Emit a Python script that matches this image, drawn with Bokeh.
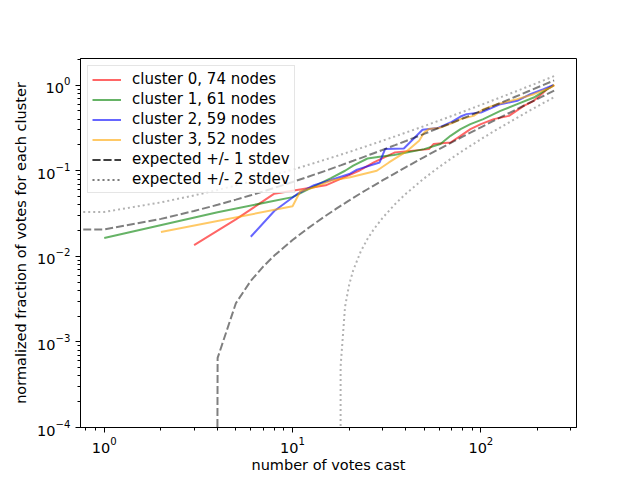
import numpy as np
from bokeh.plotting import figure
from bokeh.models import Range1d, Legend, LegendItem
from bokeh.embed import file_html
from bokeh.resources import INLINE

FONT = "DejaVu Sans"

# ---------------- data ----------------
cluster_labels = ["cluster 0, 74 nodes", "cluster 1, 61 nodes",
                  "cluster 2, 59 nodes", "cluster 3, 52 nodes"]

c0_x = [3, 5, 8, 15, 20, 22.5, 27, 35, 53, 56, 69, 78, 88, 100, 117, 141, 169, 191, 225, 245]
c0_y = [0.0135, 0.027, 0.054, 0.0676, 0.089, 0.100, 0.125, 0.164, 0.179, 0.205, 0.214,
        0.256, 0.307, 0.351, 0.401, 0.438, 0.574, 0.656, 0.898, 1.0]

c1_x = [1, 4, 10, 13, 16, 19, 21, 25, 29, 34.5, 50, 61, 69, 78, 88, 103, 127, 156, 191, 225, 244]
c1_y = [0.0164, 0.0328, 0.0492, 0.0656, 0.082, 0.100, 0.115, 0.139, 0.146, 0.153, 0.179,
        0.205, 0.256, 0.307, 0.351, 0.401, 0.50, 0.60, 0.717, 0.898, 1.0]

c2_x = [6, 8, 10.6, 13, 16, 20, 22, 29, 31, 39, 49, 59, 69, 78, 84, 100, 127, 156, 183, 215, 242]
c2_y = [0.01695, 0.0339, 0.0536, 0.0678, 0.078, 0.0916, 0.103, 0.125, 0.179, 0.182, 0.301,
        0.315, 0.366, 0.43, 0.459, 0.479, 0.60, 0.656, 0.785, 0.898, 1.0]

c3_x = [2, 10, 11, 13.5, 16, 20, 28, 32.5, 40.7, 47, 50, 53, 60, 71.6, 78, 91.5, 103.5, 122, 156, 191, 234, 246]
c3_y = [0.0192, 0.0385, 0.0577, 0.0656, 0.0769, 0.0836, 0.100, 0.125, 0.171, 0.224, 0.28,
        0.307, 0.315, 0.366, 0.401, 0.438, 0.525, 0.60, 0.687, 0.785, 0.937, 1.0]

# expected band (values <= 0 are drawn clipped, as on the reference)
expected_x = [0, 1, 2, 3, 4, 5, 6, 7, 8, 10, 12, 15, 17, 18, 19, 20, 21, 23, 25, 27,
              30, 35, 40, 50, 60, 70, 80, 100, 120, 150, 180, 210, 245]
exp_upper_1 = [0.0129, 0.0206, 0.0274, 0.0339, 0.0400, 0.0460, 0.0517, 0.0574, 0.0630,
               0.0739, 0.0846, 0.1002, 0.1105, 0.1156, 0.1207, 0.1257, 0.1307, 0.1407,
               0.1506, 0.1604, 0.1750, 0.1991, 0.2230, 0.2702, 0.3167, 0.3628, 0.4085,
               0.4990, 0.5887, 0.7219, 0.8542, 0.9855, 1.1380]
exp_lower_1 = [0, 0, 0, 0, 0.00065, 0.00283, 0.00518, 0.00763, 0.0102, 0.0155, 0.0211,
               0.0298, 0.0358, 0.0389, 0.0419, 0.0450, 0.0482, 0.0545, 0.0608, 0.0672,
               0.0770, 0.0935, 0.1103, 0.1445, 0.1792, 0.2145, 0.2501, 0.3222, 0.3951,
               0.5057, 0.6174, 0.7299, 0.8620]
exp_upper_2 = [0.0217, 0.0330, 0.0427, 0.0515, 0.0597, 0.0675, 0.0750, 0.0823, 0.0894,
               0.1031, 0.1163, 0.1354, 0.1478, 0.1540, 0.1600, 0.1660, 0.1720, 0.1838,
               0.1954, 0.2069, 0.2240, 0.2519, 0.2794, 0.3330, 0.3854, 0.4369, 0.4877,
               0.5875, 0.6855, 0.8301, 0.9726, 1.1134, 1.2760]
exp_lower_2 = [0, 0, 0, 0, 0, 0, 0, 0, 0, 0, 0, 0, 0, 0.00052, 0.00258, 0.00471, 0.00687,
               0.01134, 0.0160, 0.0207, 0.0280, 0.0407, 0.0540, 0.0816, 0.1105, 0.1403,
               0.1709, 0.2337, 0.2983, 0.3976, 0.4990, 0.6021, 0.7240]

x_limits = (0.748, 322)
y_limits = (1e-4, 2.05)

# ---------------- figure ----------------
TINY = 1e-100


def clip(a):
    arr = np.asarray(a, dtype=float)
    return np.where(arr > 0, arr, TINY)


p = figure(width=640, height=480, x_axis_type="log", y_axis_type="log",
           x_range=Range1d(*x_limits), y_range=Range1d(*y_limits),
           output_backend="svg", toolbar_location=None,
           min_border_left=80, min_border_right=64, min_border_top=58,
           min_border_bottom=53)

p.xgrid.visible = False
p.ygrid.visible = False
p.outline_line_color = "black"
p.outline_line_width = 1
p.outline_line_alpha = 1
p.background_fill_color = "white"
p.border_fill_color = "white"

for ax in (p.xaxis[0], p.yaxis[0]):
    ax.axis_line_color = "black"
    ax.major_tick_line_color = "black"
    ax.minor_tick_line_color = "black"
    ax.major_tick_out = 5
    ax.major_tick_in = 0
    ax.minor_tick_out = 3
    ax.minor_tick_in = 0
    ax.major_label_text_font = FONT
    ax.major_label_text_font_size = "14.5px"
    ax.major_label_text_color = "black"
    ax.axis_label_text_font = FONT
    ax.axis_label_text_font_size = "14.5px"
    ax.axis_label_text_font_style = "normal"
    ax.axis_label_text_color = "black"

p.xaxis.axis_label = "number of votes cast"
p.yaxis.axis_label = "normalized fraction of votes for each cluster"
p.xaxis.major_label_standoff = 4
p.xaxis.axis_label_standoff = 1
p.yaxis.major_label_standoff = 5
p.yaxis.axis_label_standoff = 5

colors = ["red", "green", "blue", "orange"]
series = [(c0_x, c0_y), (c1_x, c1_y), (c2_x, c2_y), (c3_x, c3_y)]
items = []
for (xs, ys), col, lab in zip(series, colors, cluster_labels):
    r = p.line(xs, ys, line_color=col, line_alpha=0.6, line_width=2)
    items.append(LegendItem(label=lab, renderers=[r]))

ex = clip(expected_x)
r1u = p.line(ex, clip(exp_upper_1), line_color="black", line_alpha=0.5, line_width=2,
             line_dash="8 3")
r1l = p.line(ex, clip(exp_lower_1), line_color="black", line_alpha=0.5, line_width=2,
             line_dash="8 3")
r2u = p.line(ex, clip(exp_upper_2), line_color="black", line_alpha=0.3, line_width=2,
             line_dash="2 3")
r2l = p.line(ex, clip(exp_lower_2), line_color="black", line_alpha=0.3, line_width=2,
             line_dash="2 3")
items.append(LegendItem(label="expected +/- 1 stdev", renderers=[r1u, r1l]))
items.append(LegendItem(label="expected +/- 2 stdev", renderers=[r2u, r2l]))

legend = Legend(items=items, location="top_left")
legend.label_text_font = FONT
legend.label_text_font_size = "15px"
legend.label_text_color = "black"
legend.glyph_width = 29
legend.glyph_height = 17
legend.label_height = 17
legend.label_standoff = 11
legend.spacing = 2
legend.padding = 4
legend.margin = 7
legend.border_line_color = "#cccccc"
legend.border_line_width = 1
legend.background_fill_color = "white"
legend.background_fill_alpha = 0.8
p.add_layout(legend)

open("out.html", "w").write(file_html(p, INLINE))
